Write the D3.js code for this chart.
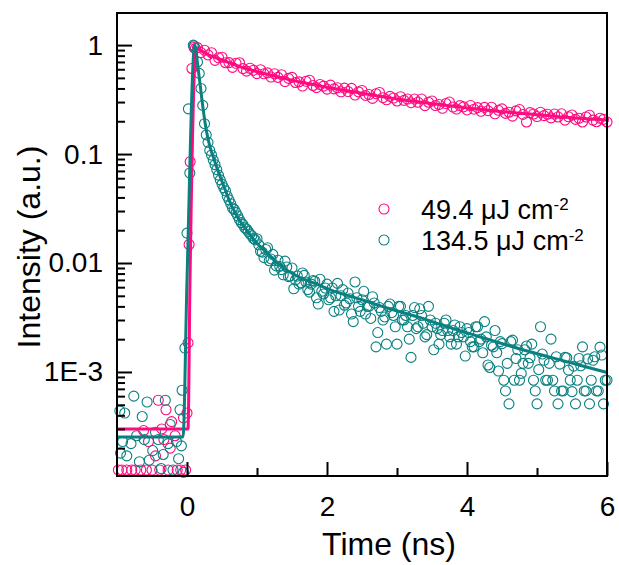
<!DOCTYPE html>
<html>
<head>
<meta charset="utf-8">
<script src="https://cdn.jsdelivr.net/npm/d3@7"></script>
<style>
  body { margin: 0; background: #fff; }
  text { font-family: Arial, "Liberation Sans", sans-serif; }
</style>
</head>
<body>
<div class="container"></div>
<script>
// series names and colours
var seriesNames = ["49.4 \u03bcJ cm", "134.5 \u03bcJ cm"];
var seriesColors = ["#ff0a80", "#0a8080"];

// tick labels
var xTicks = [0, 2, 4, 6];
var xMinor = [1, 3, 5];
var yTicks = [1, 0.1, 0.01, 0.001];
var yTickLabels = ["1", "0.1", "0.01", "1E-3"];

// measured points, [time (ns), intensity]
var pinkScatter = [
  [-0.98,1.26e-4],[-0.93,1.26e-4],[-0.86,1.26e-4],[-0.79,1.26e-4],[-0.74,1.26e-4],[-0.66,1.26e-4],
  [-0.62,2.9e-4],[-0.58,1.26e-4],[-0.55,2.3e-4],[-0.50,1.26e-4],[-0.45,1.7e-4],[-0.41,5.5e-4],
  [-0.39,1.26e-4],[-0.36,3.0e-4],[-0.33,2.4e-4],[-0.30,4.5e-4],[-0.27,1.26e-4],[-0.24,2.0e-4],
  [-0.22,3.5e-4],[-0.17,2.6e-4],[-0.14,1.26e-4],[-0.09,1.26e-4],[-0.05,3.8e-4],[-0.02,1.26e-4],
  [0.00,4.2e-4],[0.015,1.85e-3],[0.03,0.0148],[0.045,0.085],[0.07,0.61],[0.10,0.95],[0.12,0.93],
  [0.15,0.948],[0.20,0.854],[0.25,0.898],[0.30,0.812],[0.35,0.851],[0.40,0.724],[0.45,0.765],
  [0.50,0.774],[0.55,0.689],[0.60,0.690],[0.65,0.625],[0.70,0.681],[0.75,0.688],[0.80,0.608],
  [0.85,0.577],[0.90,0.613],[0.95,0.588],[1.00,0.547],[1.05,0.594],[1.10,0.545],[1.15,0.556],
  [1.20,0.509],[1.25,0.546],[1.30,0.505],[1.35,0.535],[1.40,0.463],[1.45,0.495],[1.50,0.505],
  [1.55,0.454],[1.60,0.460],[1.65,0.421],[1.70,0.465],[1.75,0.476],[1.80,0.426],[1.85,0.407],
  [1.90,0.435],[1.95,0.420],[2.00,0.394],[2.05,0.429],[2.10,0.396],[2.15,0.406],[2.20,0.373],
  [2.25,0.403],[2.30,0.375],[2.35,0.401],[2.40,0.348],[2.45,0.372],[2.50,0.383],[2.55,0.345],
  [2.60,0.352],[2.65,0.324],[2.70,0.358],[2.75,0.367],[2.80,0.329],[2.85,0.315],[2.90,0.338],
  [2.95,0.327],[3.00,0.307],[3.05,0.336],[3.10,0.311],[3.15,0.320],[3.20,0.296],[3.25,0.320],
  [3.30,0.299],[3.35,0.320],[3.40,0.278],[3.45,0.299],[3.50,0.307],[3.55,0.279],[3.60,0.285],
  [3.65,0.263],[3.70,0.291],[3.75,0.300],[3.80,0.270],[3.85,0.259],[3.90,0.278],[3.95,0.271],
  [4.00,0.254],[4.05,0.279],[4.10,0.258],[4.15,0.267],[4.20,0.247],[4.25,0.268],[4.30,0.250],
  [4.35,0.269],[4.40,0.234],[4.45,0.252],[4.50,0.260],[4.55,0.236],[4.60,0.242],[4.65,0.223],
  [4.70,0.249],[4.75,0.256],[4.80,0.231],[4.85,0.197],[4.90,0.240],[4.95,0.233],[5.00,0.221],
  [5.05,0.242],[5.10,0.225],[5.15,0.232],[5.20,0.215],[5.25,0.233],[5.30,0.219],[5.35,0.234],
  [5.40,0.205],[5.45,0.220],[5.50,0.228],[5.55,0.208],[5.60,0.213],[5.65,0.197],[5.70,0.219],
  [5.75,0.227],[5.80,0.205],[5.85,0.198],[5.90,0.213],[5.95,0.208],[6.00,0.197]
];

var tealScatter = [
  [-0.96,4.4e-4],[-0.95,1.8e-4],[-0.92,2.3e-4],[-0.89,4.2e-4],[-0.86,1.7e-4],[-0.80,2.2e-4],
  [-0.76,6.0e-4],[-0.72,2.6e-4],[-0.68,1.5e-4],[-0.64,3.9e-4],[-0.61,2.4e-4],[-0.57,5.3e-4],
  [-0.54,1.55e-4],[-0.49,1.9e-4],[-0.45,2.8e-4],[-0.41,2.4e-4],[-0.37,1.3e-4],[-0.34,1.75e-4],
  [-0.31,5.5e-4],[-0.27,2.2e-4],[-0.24,3.3e-4],[-0.20,1.26e-4],[-0.15,2.3e-4],[-0.12,1.6e-4],
  [-0.10,4.5e-4],[-0.08,2.1e-4],[-0.07,6.8e-4],[-0.05,1.2e-4],[-0.03,1.66e-3],
  [0.00,0.0188],[0.02,0.26],[0.04,0.067],[0.09,1.0],[0.10,0.98],
  [0.15,0.70],[0.175,0.55],[0.20,0.40],[0.225,0.28],[0.25,0.19],[0.275,0.15],[0.30,0.128],
  [0.325,0.108],[0.35,0.098],[0.375,0.088],[0.40,0.080],[0.425,0.072],[0.45,0.064],[0.475,0.058],
  [0.50,0.053],[0.525,0.049],[0.55,0.046],[0.575,0.041],[0.60,0.038],[0.625,0.035],[0.65,0.032],
  [0.675,0.031],[0.70,0.029],[0.725,0.027],[0.75,0.025],[0.775,0.0235],[0.80,0.0225],[0.825,0.021],
  [0.85,0.0205],[0.875,0.0195],[0.90,0.0185],[0.925,0.0178],[0.95,0.0168],[0.975,0.0163],
  [1.00,0.0167],[1.025,0.0147],[1.05,0.0128],[1.075,0.0126],[1.10,0.0112],[1.125,0.0133],
  [1.15,0.0138],[1.175,0.0105],[1.20,0.0109],[1.225,0.0120],[1.25,0.0086],[1.275,0.0094],
  [1.30,0.0106],[1.325,0.0093],[1.35,0.0087],[1.375,0.0078],[1.40,0.0104],[1.425,0.0092],
  [1.45,0.0075],[1.475,0.0076],[1.50,0.0090],[1.525,0.0058],[1.55,0.0070],[1.575,0.0076],
  [1.60,0.0064],[1.625,0.0066],[1.65,0.0081],[1.675,0.0077],[1.70,0.0067],[1.725,0.0057],
  [1.75,0.0054],[1.775,0.0064],[1.80,0.0069],[1.825,0.0068],[1.85,0.0048],[1.875,0.0042],
  [1.90,0.0071],[1.925,0.0055],[1.95,0.0052],[1.975,0.0059],[2.00,0.0064],[2.025,0.0046],
  [2.05,0.0048],[2.075,0.0059],[2.10,0.0036],[2.125,0.0050],[2.15,0.0065],[2.175,0.0037],
  [2.20,0.0050],[2.225,0.0057],[2.25,0.0041],[2.275,0.0043],[2.30,0.0053],[2.325,0.0047],
  [2.35,0.0034],[2.375,0.0029],[2.40,0.0067],[2.425,0.0048],[2.45,0.0040],[2.475,0.0036],
  [2.50,0.0046],[2.525,0.0055],[2.55,0.0034],[2.575,0.0040],[2.60,0.0040],[2.625,0.0031],
  [2.65,0.0049],[2.675,0.0043],[2.70,0.0017],[2.725,0.0023],[2.75,0.0039],[2.775,0.0036],
  [2.80,0.0030],[2.825,0.0032],[2.85,0.0018],[2.875,0.0040],[2.90,0.0042],[2.925,0.0035],
  [2.95,0.0033],[2.975,0.0026],[3.00,0.0018],[3.025,0.0040],[3.05,0.0040],[3.075,0.0030],
  [3.10,0.0030],[3.125,0.0033],[3.15,0.0026],[3.175,0.0020],[3.20,0.00136],[3.225,0.0033],
  [3.25,0.0039],[3.275,0.0025],[3.30,0.0026],[3.325,0.0038],[3.35,0.0033],[3.375,0.0028],
  [3.40,0.0021],[3.425,0.0022],[3.45,0.0040],[3.475,0.0030],[3.50,0.0026],[3.525,0.0016],
  [3.55,0.0028],[3.575,0.0025],[3.60,0.0018],[3.625,0.0022],[3.65,0.0024],[3.675,0.0028],
  [3.70,0.0030],[3.725,0.0024],[3.75,0.0021],[3.775,0.0018],[3.80,0.0024],[3.825,0.0027],
  [3.85,0.0018],[3.875,0.0021],[3.90,0.0026],[3.925,0.0023],[3.95,0.0021],[3.975,0.0014],
  [4.00,0.0025],[4.025,0.0023],[4.05,0.0019],[4.075,0.0017],[4.10,0.0017],[4.125,0.0026],
  [4.15,0.0026],[4.175,0.0019],[4.20,0.0020],[4.225,0.0015],[4.25,0.0029],[4.275,0.0021],
  [4.30,0.00116],[4.325,0.0011],[4.35,0.00176],[4.375,0.0017],[4.40,0.0024],[4.425,0.0015],
  [4.45,0.00102],[4.475,0.0019],[4.50,0.00182],[4.525,0.00084],[4.55,0.00067],[4.575,0.0012],
  [4.60,0.00051],[4.625,0.0019],[4.65,0.00196],[4.675,0.00084],[4.70,0.00133],[4.725,0.0016],
  [4.75,0.00084],[4.775,0.00097],[4.80,0.0012],[4.825,0.0016],[4.85,0.00173],[4.875,0.0012],
  [4.90,0.00135],[4.925,0.0018],[4.95,0.00084],[4.975,0.00067],[5.00,0.00051],[5.025,0.00105],
  [5.05,0.0026],[5.075,0.00146],[5.10,0.00128],[5.125,0.00084],[5.15,0.00084],[5.175,0.0012],
  [5.20,0.0020],[5.225,0.00084],[5.25,0.00067],[5.275,0.00138],[5.30,0.00051],[5.325,0.00118],
  [5.35,0.00067],[5.375,0.00067],[5.40,0.00136],[5.425,0.00135],[5.45,0.00104],[5.475,0.00084],
  [5.50,0.00066],[5.525,0.00113],[5.55,0.00051],[5.575,0.00084],[5.60,0.00133],[5.625,0.00114],
  [5.65,0.0017],[5.675,0.00067],[5.70,0.00067],[5.725,0.00132],[5.75,0.00051],[5.775,0.00084],
  [5.80,0.00128],[5.825,0.00138],[5.85,0.00067],[5.875,0.00067],[5.90,0.00169],[5.925,0.00143],
  [5.95,0.00051],[5.975,0.00084],[6.00,0.00084]
];

// fitted curves
var pinkFit = [
  [-1,3.0e-4],[0.014,3.0e-4],[0.043,0.007],[0.13,0.94],[0.2,0.89],[0.3,0.82],[0.4,0.77],
  [0.5,0.73],[0.6,0.69],[0.7,0.655],[0.8,0.62],[0.9,0.595],[1.0,0.57],[1.2,0.53],[1.4,0.493],
  [1.6,0.46],[1.8,0.435],[2.0,0.41],[2.2,0.389],[2.4,0.37],[2.6,0.352],[2.8,0.336],[3.0,0.32],
  [3.2,0.308],[3.4,0.296],[3.6,0.285],[3.8,0.275],[4.0,0.265],[4.25,0.255],[4.5,0.245],
  [4.75,0.237],[5.0,0.23],[5.25,0.222],[5.5,0.215],[5.75,0.21],[6.0,0.205]
];
var tealFit = [
  [-1,2.53e-4],[-0.057,2.53e-4],[0.0,0.007],[0.11,1.0],[0.16,0.6],[0.19,0.42],[0.23,0.26],
  [0.28,0.16],[0.33,0.115],[0.38,0.092],[0.45,0.068],[0.52,0.052],[0.6,0.038],[0.7,0.028],
  [0.85,0.020],[1.0,0.0152],[1.15,0.0123],[1.33,0.0095],[1.57,0.0076],[1.8,0.0066],
  [2.04,0.0057],[2.5,0.0046],[2.9,0.0038],[3.3,0.0032],[3.76,0.00255],[4.33,0.00197],
  [4.8,0.0016],[5.2,0.00136],[5.6,0.00116],[6.0,0.00099]
];

var margin = {top: 13, right: 12, bottom: 89, left: 117},
    width = 619,
    height = 565;

var svg = d3.select(".container").append("svg")
    .attr("width", width)
    .attr("height", height);

var x = d3.scaleLinear()
    .domain([-1, 6])
    .range([margin.left, width - margin.right]);

var y = d3.scaleLog()
    .domain([1.11e-4, 1.97])
    .range([height - margin.bottom, margin.top]);

// minor ticks for the log axis: 2..9 in every decade
var yMinor = [];
[1e-4, 1e-3, 1e-2, 1e-1, 1].forEach(function(dec) {
  for (var k = 2; k <= 9; k++) {
    var v = dec * k;
    if (v > y.domain()[0] && v < y.domain()[1]) yMinor.push(v);
  }
});

// scatter
var series = [pinkScatter, tealScatter];
series.forEach(function(pts, i) {
  svg.append("g")
    .selectAll("circle")
    .data(pts)
    .join("circle")
      .attr("cx", d => x(d[0]))
      .attr("cy", d => y(d[1]))
      .attr("r", 5)
      .attr("fill", "none")
      .attr("stroke", seriesColors[i])
      .attr("stroke-width", 1.1);
});

// fit lines
var line = d3.line()
    .x(d => x(d[0]))
    .y(d => y(d[1]))
    .curve(d3.curveMonotoneX);

[pinkFit, tealFit].forEach(function(fit, i) {
  svg.append("path")
    .datum(fit)
    .attr("fill", "none")
    .attr("stroke", seriesColors[i])
    .attr("stroke-width", 3)
    .attr("d", line);
});

// axes
var xAxis = svg.append("g")
    .attr("transform", `translate(0,${height - margin.bottom})`)
    .call(d3.axisBottom(x).tickValues(xTicks).tickFormat(d3.format("d")).tickSize(-14).tickPadding(20));
xAxis.append("g")
    .call(d3.axisBottom(x).tickValues(xMinor).tickFormat("").tickSize(-8));

var yAxis = svg.append("g")
    .attr("transform", `translate(${margin.left},0)`)
    .call(d3.axisLeft(y).tickValues(yTicks).tickFormat((d, i) => yTickLabels[i]).tickSize(-15).tickPadding(14));
yAxis.append("g")
    .call(d3.axisLeft(y).tickValues(yMinor).tickFormat("").tickSize(-8));

svg.selectAll(".domain").remove();
svg.selectAll(".tick line").attr("stroke", "#000").attr("stroke-width", 2);
svg.selectAll(".tick text")
    .attr("fill", "#000")
    .style("font-size", "28px")
    .style("font-family", "Arial, 'Liberation Sans', sans-serif");

// frame
svg.append("rect")
    .attr("x", margin.left)
    .attr("y", margin.top)
    .attr("width", width - margin.left - margin.right)
    .attr("height", height - margin.top - margin.bottom)
    .attr("fill", "none")
    .attr("stroke", "#000")
    .attr("stroke-width", 2);

// axis titles
svg.append("text")
    .attr("x", 389)
    .attr("y", 555)
    .attr("text-anchor", "middle")
    .style("font-size", "32px")
    .text("Time (ns)");

svg.append("text")
    .attr("transform", "translate(40,247) rotate(-90)")
    .attr("text-anchor", "middle")
    .style("font-size", "32px")
    .text("Intensity (a.u.)");

// legend
var legend = svg.append("g")
  .selectAll("g")
  .data(seriesNames)
  .join("g")
    .attr("transform", (d, i) => `translate(384,${209 + i * 31})`);

legend.append("circle")
    .attr("r", 5)
    .attr("fill", "none")
    .attr("stroke", (d, i) => seriesColors[i])
    .attr("stroke-width", 1.1);

var lt = legend.append("text")
    .attr("x", 37)
    .attr("dy", "0.36em")
    .style("font-size", "27px");
lt.append("tspan").text(d => d);
lt.append("tspan")
    .attr("dy", "-0.5em")
    .style("font-size", "17px")
    .text("-2");
</script>
</body>
</html>
